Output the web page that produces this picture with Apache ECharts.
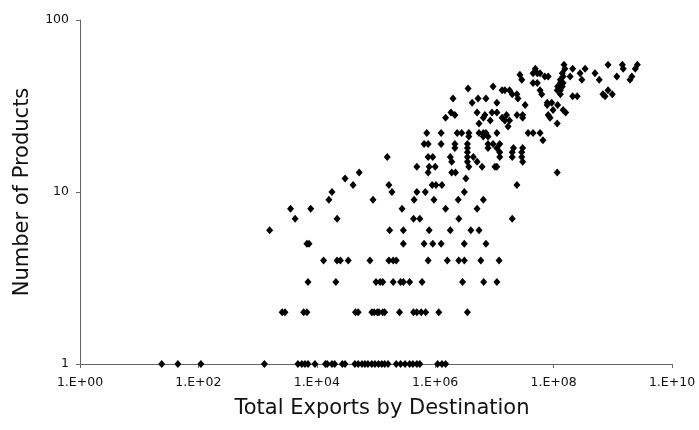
<!DOCTYPE html>
<html>
<head>
<meta charset="utf-8">
<script src="https://cdn.jsdelivr.net/npm/echarts@6/dist/echarts.min.js"></script>
<style>
    html, body { margin: 0; padding: 0; background: #fff; }
    #chart { width: 699px; height: 430px; }
</style>
</head>
<body>
<div id="chart"></div>
<script>
// number of products exported to a destination (y) and total exports to it (x),
// one list of export totals for each product count
const productCounts = [1, 2, 3, 4, 5, 6, 7, 8, 9, 10, 11, 12, 13, 14, 15, 16, 17, 18, 19, 20,
    21, 22, 24, 25, 26, 27, 28, 29, 30, 32, 33, 35, 36, 37, 39, 40, 41, 43, 45, 47, 48, 49, 52, 55];

const totalExports = [
    // 1
    [24, 45, 110, 1.3e3, 4.8e3, 5.6e3, 6.3e3, 7.1e3, 9.3e3, 1.4e4, 1.5e4, 1.8e4, 2.0e4, 2.7e4, 3.0e4,
        4.4e4, 5.0e4, 5.8e4, 6.5e4, 7.3e4, 8.5e4, 9.6e4, 1.1e5, 1.25e5, 1.4e5, 1.6e5, 2.2e5, 2.6e5,
        3.1e5, 3.7e5, 4.2e5, 4.9e5, 5.5e5, 1.1e6, 1.3e6, 1.5e6],
    // 2
    [2.6e3, 2.9e3, 6.0e3, 6.8e3, 4.5e4, 5.0e4, 8.5e4, 9.3e4, 1.05e5, 1.12e5, 1.3e5, 1.4e5, 2.5e5,
        4.3e5, 4.9e5, 5.8e5, 6.9e5, 1.15e6, 3.5e6],
    // 3
    [7.1e3, 2.1e4, 1.0e5, 1.17e5, 1.3e5, 1.95e5, 2.6e5, 2.9e5, 3.7e5, 6.0e5, 2.9e6, 6.6e6, 1.1e7],
    // 4
    [1.3e4, 2.2e4, 2.5e4, 3.4e4, 7.9e4, 1.65e5, 1.95e5, 2.2e5, 7.6e5, 1.6e6, 2.5e6, 3.1e6, 5.9e6, 1.2e7],
    // 5
    [6.8e3, 7.4e3, 2.9e5, 6.5e5, 9.1e5, 1.26e6, 3.1e6, 7.2e6],
    // 6
    [1.6e3, 1.7e5, 2.9e5, 7.9e5, 1.8e6, 4.0e6, 5.5e6],
    // 7
    [4.3e3, 2.2e4, 4.3e5, 5.5e5, 2.5e6, 2.0e7],
    // 8
    [3.6e3, 7.9e3, 2.75e5, 1.5e6, 5.1e6],
    // 9
    [1.6e4, 8.9e4, 4.4e5, 9.5e5, 2.45e6, 6.5e6],
    // 10
    [1.8e4, 1.86e5, 4.9e5, 6.8e5, 3.1e6],
    // 11
    [4.1e4, 1.65e5, 8.9e5, 1.03e6, 1.3e6, 2.4e7],
    // 12
    [3.0e4, 3.3e6],
    // 13
    [5.2e4, 7.6e5, 1.9e6, 2.2e6, 1.15e8],
    // 14
    [4.9e5, 7.9e5, 1.0e6, 3.7e6, 6.2e6, 1.02e7, 1.1e7],
    // 15
    [1.9e6, 3.5e6, 5.1e6, 3.0e7],
    // 16
    [1.55e5, 7.6e5, 9.1e5, 1.8e6, 3.5e6, 4.4e6, 1.23e7, 2.0e7, 2.9e7],
    // 17
    [3.5e6, 1.23e7, 2.0e7, 2.9e7],
    // 18
    [2.15e6, 3.5e6, 7.8e6, 1.1e7, 2.1e7, 3.0e7],
    // 19
    [6.5e5, 7.6e5, 1.26e6, 2.15e6, 3.5e6, 7.8e6, 9.5e6, 1.23e7],
    // 20
    [6.6e7],
    // 21
    [3.7e6, 6.5e6, 7.8e6],
    // 22
    [7.2e5, 1.26e6, 2.35e6, 2.8e6, 3.7e6, 5.5e6, 6.5e6, 7.2e6, 1.1e7, 3.7e7, 4.5e7, 5.9e7],
    // 24
    [1.7e7],
    // 25
    [5.5e6, 1.15e8],
    // 26
    [8.5e6, 1.5e7, 1.8e7],
    // 27
    [1.5e6, 6.5e6, 1.35e7, 3.0e7, 8.7e7],
    // 28
    [2.15e6, 6.9e6, 1.6e7, 2.4e7, 3.0e7, 8.1e7],
    // 29
    [1.85e6, 5.1e6, 9.1e6, 1.1e7, 1.6e8],
    // 30
    [9.8e7, 1.45e8],
    // 32
    [3.3e7, 7.8e7, 1.17e8],
    // 33
    [4.2e6, 1.1e7, 7.8e7, 9.3e7],
    // 35
    [2.0e6, 5.3e6, 7.2e6, 2.5e7],
    // 36
    [2.1e8, 2.5e8, 7.4e8],
    // 37
    [2.0e7, 2.4e7, 6.3e7, 1.3e8, 6.8e8, 9.8e8],
    // 39
    [1.35e7, 1.5e7, 1.8e7, 5.9e7, 1.15e8, 1.3e8, 8.3e8],
    // 40
    [3.6e6],
    // 41
    [9.5e6, 1.17e8, 1.4e8],
    // 43
    [4.5e7, 5.3e7, 1.3e8, 1.45e8],
    // 45
    [2.9e7, 1.3e8, 3.0e8, 5.9e8, 1.95e9],
    // 47
    [7.1e7, 8.1e7, 1.45e8, 1.9e8, 1.17e9, 2.1e9],
    // 48
    [2.7e7],
    // 49
    [4.5e7, 5.3e7, 5.9e7, 1.4e8, 2.8e8, 5.0e8],
    // 52
    [4.9e7, 1.55e8, 2.1e8, 3.4e8, 1.5e9, 2.4e9],
    // 55
    [1.5e8, 8.3e8, 1.45e9, 2.6e9]
];

const xTickLabels = ['1.E+00', '1.E+02', '1.E+04', '1.E+06', '1.E+08', '1.E+10'];
const yTickLabels = ['1', '10', '100'];

let points = [];
productCounts.forEach((count, i) => {
    totalExports[i].forEach(value => {
        points.push([value, count]);
    });
});

const font = 'DejaVu Sans, Verdana, sans-serif';
let chart = echarts.init(document.getElementById('chart'));

chart.setOption({
    animation: false,
    backgroundColor: '#fff',
    grid: { left: 80, top: 20, right: 27, bottom: 66, containLabel: false },
    xAxis: {
        type: 'log',
        logBase: 10,
        min: 1,
        max: 1e10,
        interval: 2,
        name: 'Total Exports by Destination',
        nameLocation: 'middle',
        nameGap: 34,
        nameTextStyle: { fontFamily: font, fontSize: 21, color: '#111', padding: [0, 0, 0, 12] },
        axisLine: { lineStyle: { color: '#666', width: 1 } },
        axisTick: { length: 4, lineStyle: { color: '#666' } },
        splitLine: { show: false },
        axisLabel: {
            fontFamily: font,
            fontSize: 12.5,
            color: '#111',
            margin: 12,
            formatter: v => xTickLabels[Math.round(Math.log10(v) / 2)]
        }
    },
    yAxis: {
        type: 'log',
        logBase: 10,
        min: 1,
        max: 100,
        splitNumber: 2,
        name: 'Number of Products',
        nameLocation: 'middle',
        nameGap: 47,
        nameTextStyle: { fontFamily: font, fontSize: 21, color: '#111' },
        axisLine: { show: true, lineStyle: { color: '#666', width: 1 } },
        axisTick: { show: true, length: 4, lineStyle: { color: '#666' } },
        splitLine: { show: false },
        axisLabel: {
            fontFamily: font,
            fontSize: 12.5,
            color: '#111',
            margin: 11,
            formatter: v => yTickLabels[Math.round(Math.log10(v))]
        }
    },
    series: [{
        type: 'scatter',
        symbol: 'diamond',
        symbolSize: [7, 8],
        itemStyle: { color: '#000', opacity: 1 },
        data: points
    }]
});
</script>
</body>
</html>
